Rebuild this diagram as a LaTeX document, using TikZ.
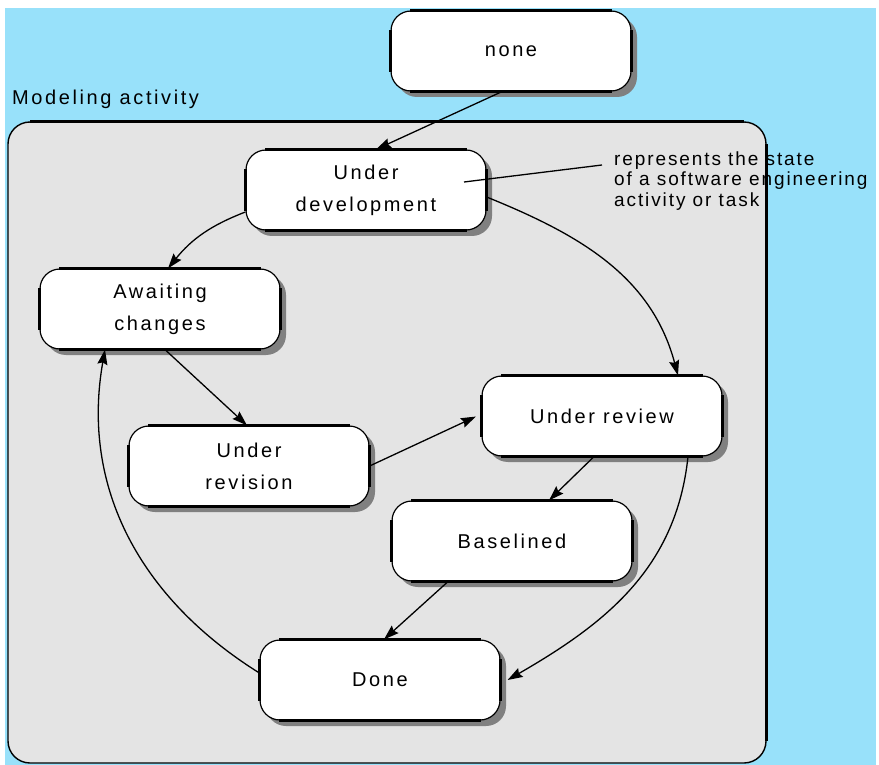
\documentclass[tikz,border=0pt]{standalone}
\usepackage{fontspec}
\setmainfont{Liberation Sans}
\newfontfamily\statefont[LetterSpace=13]{Liberation Sans}
\newfontfamily\notefont[LetterSpace=10]{Liberation Sans}
\usetikzlibrary{arrows.meta,shadows}
\definecolor{skyback}{RGB}{152,225,250}
\definecolor{panelgray}{RGB}{228,228,228}
\definecolor{shadowgray}{RGB}{128,128,128}

\begin{document}
\begin{tikzpicture}[x=1pt,y=-1pt,
  state/.style={rectangle, rounded corners=20pt, draw=black, line width=1.2pt,
    fill=white, minimum width=240pt, minimum height=80pt, inner sep=0pt,
    align=center, font=\statefont\fontsize{20}{32}\selectfont,
    drop shadow={shadow xshift=6pt, shadow yshift=-6pt, fill=shadowgray, opacity=1}},
  edgebar/.style={line width=3pt, line cap=butt},
  trans/.style={draw=black, line width=1.3pt,
    -{Stealth[length=15pt,width=10pt,inset=2pt]}},
  leader/.style={draw=black, line width=1.3pt},
]
\useasboundingbox (0,0) rectangle (879,765);

% page and outer region
\fill[white] (0,0) rectangle (879,765);
\fill[skyback] (5,8) rectangle (876,765);

% activity panel
\fill[panelgray, rounded corners=22pt] (8,122) rectangle (766,763);
\node (title) [anchor=base west, inner sep=0pt,
  font=\statefont\fontsize{20}{24}\selectfont] at (12,105) {Modeling activity};

% note text (the panel outline is drawn over it)
\node (note) [anchor=west, align=left, inner sep=0pt,
  font=\notefont\fontsize{19}{20.5}\selectfont] at (614,181)
  {represents the state\\of a software engineering\\activity or task};

\draw[line width=1.4pt, rounded corners=22pt] (8,122) rectangle (766,763);
\draw[edgebar] (30,122) -- (744,122);
\draw[edgebar] (766,144) -- (766,741);

% states
\node[state] (none) at (511,51)   {none};
\node[state] (udev) at (366,190)  {Under\\development};
\node[state] (wait) at (160,309)  {Awaiting\\changes};
\node[state] (urev) at (249,466)  {Under\\revision};
\node[state] (rvw)  at (602,416)  {Under review};
\node[state] (base) at (512,541)  {Baselined};
\node[state] (done) at (380,680)  {Done};

% heavy straight edges of the state boxes
\foreach \s in {none,udev,wait,urev,rvw,base,done}{
  \draw[edgebar] ([xshift=20pt]\s.north west) -- ([xshift=-20pt]\s.north east);
  \draw[edgebar] ([xshift=20pt]\s.south west) -- ([xshift=-20pt]\s.south east);
  \draw[edgebar] ([yshift=-20pt]\s.north west) -- ([yshift=20pt]\s.south west);
  \draw[edgebar] ([yshift=-20pt]\s.north east) -- ([yshift=20pt]\s.south east);
}

% transitions
\draw[trans] ([xshift=-9pt]none.south) -- ([xshift=10pt]udev.north);
\draw[trans] ([yshift=-22pt]udev.west) to[bend right=15] ([xshift=8pt]wait.north);
\draw[trans] ([yshift=-7pt]udev.east) to[out=-22, in=105] ([xshift=76pt]rvw.north);
\draw[trans] ([xshift=5pt]wait.south) -- ([xshift=-2pt]urev.north);
\draw[trans, shorten >=6pt] (urev.east) -- ([yshift=2pt]rvw.west);
\draw[trans] ([xshift=-8pt]rvw.south) -- ([xshift=37pt]base.north);
\draw[trans] ([xshift=-64pt]base.south) -- ([xshift=4pt]done.north);
\draw[trans] ([xshift=86pt]rvw.south) to[out=-96, in=30] ([xshift=7pt]done.east);
\draw[trans] ([yshift=7pt]done.west) to[out=148, in=-100] ([xshift=-55pt]wait.south);

% leader from the state box to the note
\coordinate (leadstart) at ([xshift=98pt,yshift=8pt]udev.center);
\draw[leader] (leadstart) -- ([xshift=-12pt,yshift=16pt]note.west);

\end{tikzpicture}
\end{document}
